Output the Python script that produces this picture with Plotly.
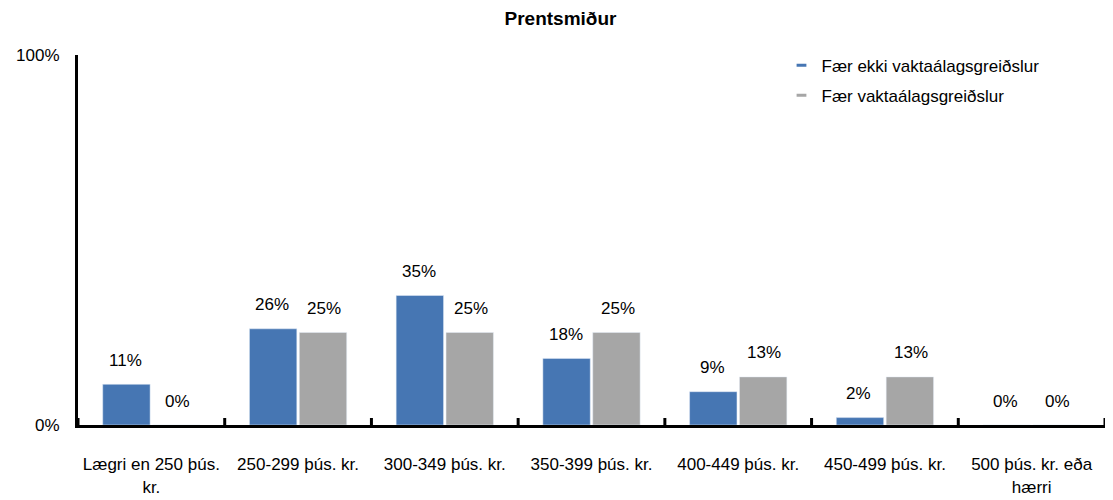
import plotly.graph_objects as go

categories = ["Lægri en 250 þús.<br>kr.", "250-299 þús. kr.", "300-349 þús. kr.",
              "350-399 þús. kr.", "400-449 þús. kr.", "450-499 þús. kr.",
              "500 þús. kr. eða<br>hærri"]
series_names = ["Fær ekki vaktaálagsgreiðslur", "Fær vaktaálagsgreiðslur"]
values_a = [11, 26, 35, 18, 9, 2, 0]
values_b = [0, 25, 25, 25, 13, 13, 0]
colors = ["#4676B3", "#A6A6A6"]
y_ticks = [0, 100]
y_tick_labels = ["0%", "100%"]

FONT = "Liberation Sans, Arial, sans-serif"
FS = 17

fig = go.Figure()
for k, (name, vals, col) in enumerate(zip(series_names, [values_a, values_b], colors)):
    fig.add_trace(go.Bar(x=categories, y=vals, name=name, marker_color=col,
                         showlegend=False, hoverinfo="skip"))
    fig.add_trace(go.Scatter(x=[None], y=[None], mode="markers", name=name,
                             legendgroup=f"g{k}",
                             marker=dict(symbol="line-ew", size=7,
                                         line=dict(color=col, width=3))))

annotations = []
for k, vals in enumerate([values_a, values_b]):
    shift = -26 if k == 0 else 26
    for cat, v in zip(categories, vals):
        annotations.append(dict(x=cat, y=v, xref="x", yref="y", text=f"{v}%",
                                showarrow=False, xshift=shift, yshift=24,
                                font=dict(size=FS, color="black", family=FONT)))

shapes = []
for i in range(len(categories) + 1):
    shapes.append(dict(type="line", xref="x", yref="y", x0=i - 0.5, x1=i - 0.5,
                       ysizemode="pixel", yanchor=0, y0=-7, y1=7,
                       line=dict(color="black", width=3)))

# the page body has an 8px margin, so the figure is sized to fit the window
fig.update_layout(
    width=1105, height=492,
    margin=dict(l=70, r=8, t=47, b=75, autoexpand=False),
    paper_bgcolor="white", plot_bgcolor="white",
    barmode="group", bargap=0.32, bargroupgap=0.05,
    title=dict(text="<b>Prentsmiður</b>", x=0.5, xanchor="center", y=0.98,
               yanchor="middle", font=dict(size=19, color="black", family=FONT)),
    font=dict(family=FONT, size=FS, color="black"),
    legend=dict(x=0.685, y=1.02, xanchor="left", yanchor="top",
                traceorder="grouped", tracegroupgap=5,
                font=dict(size=FS, color="black", family=FONT),
                bgcolor="rgba(0,0,0,0)"),
    annotations=annotations,
    shapes=shapes,
    xaxis=dict(showline=True, linecolor="black", linewidth=3, ticks="",
               showgrid=False, ticklabelstandoff=22, automargin=False,
               range=[-0.5, len(categories) - 0.5],
               tickfont=dict(size=FS, color="black", family=FONT)),
    yaxis=dict(range=[0, 100], tickvals=y_ticks, ticktext=y_tick_labels,
               showline=True, linecolor="black", linewidth=3, ticks="",
               showgrid=False, zeroline=False, ticklabelstandoff=12,
               automargin=False,
               tickfont=dict(size=FS, color="black", family=FONT)),
)

fig.write_html("out.html")
